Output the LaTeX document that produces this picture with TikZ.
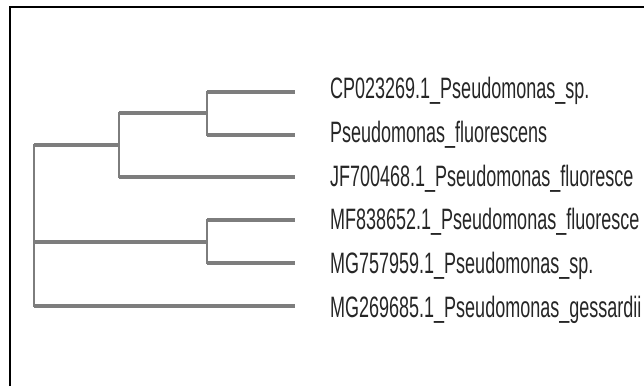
\documentclass[tikz,border=0pt]{standalone}
\usepackage{fontspec}
\setmainfont{Liberation Sans}[FakeStretch=0.61]
\usetikzlibrary{positioning}
\usetikzlibrary{calc}
\definecolor{branchgray}{RGB}{125,125,125}

\begin{document}
\begin{tikzpicture}[x=1pt,y=-1pt]
	\tikzset{taxon/.style = {anchor=base west, inner sep=0pt, text=black!85, font=\fontsize{29.5}{29.5}\selectfont}}
	\tikzset{hbranch/.style = {draw=branchgray, line width=4pt}}
	\tikzset{vbranch/.style = {draw=branchgray, line width=2.5pt, line cap=rect}}
	\useasboundingbox (0,0) rectangle (644,386);
	\draw[line width=2pt] (10,386) -- (10,7) -- (644,7);
	
	% clades
	\coordinate (ROOT) at (34,145);
	\coordinate (B) at (119,145);
	\coordinate (A) at (207,113);
	\coordinate (C) at (207,242);
	
	% tips
	\coordinate (E1) at (295,92);
	\coordinate (E2) at (295,135);
	\coordinate (E3) at (295,177);
	\coordinate (E4) at (295,220);
	\coordinate (E5) at (295,263);
	\coordinate (E6) at (295,306);
	
	\node[taxon] (CP023) at (330,98) {CP023269.1\_Pseudomonas\_sp.};
	\node[taxon] (PFLUO) at (330,142) {Pseudomonas\_fluorescens};
	\node[taxon] (JF700) at (330,186) {JF700468.1\_Pseudomonas\_fluoresce};
	\node[taxon] (MF838) at (330,229) {MF838652.1\_Pseudomonas\_fluoresce};
	\node[taxon] (MG757) at (330,273) {MG757959.1\_Pseudomonas\_sp.};
	\node[taxon] (MG269) at (330,317) {MG269685.1\_Pseudomonas\_gessardii};
	
	\draw[vbranch, line width=1.2pt] (ROOT |- B) -- (ROOT |- E6);
	\draw[hbranch] (ROOT |- B) -- (B);
	\draw[hbranch] (ROOT |- C) -- (C);
	\draw[hbranch] (ROOT |- E6) -- (E6);
	
	\draw[vbranch] (B |- A) -- (B |- E3);
	\draw[hbranch] (B |- A) -- (A);
	\draw[hbranch] (B |- E3) -- (E3);
	
	\draw[vbranch] (A |- E1) -- (A |- E2);
	\draw[hbranch] (A |- E1) -- (E1);
	\draw[hbranch] (A |- E2) -- (E2);
	
	\draw[vbranch] (C |- E4) -- (C |- E5);
	\draw[hbranch] (C |- E4) -- (E4);
	\draw[hbranch] (C |- E5) -- (E5);
\end{tikzpicture}
\end{document}
